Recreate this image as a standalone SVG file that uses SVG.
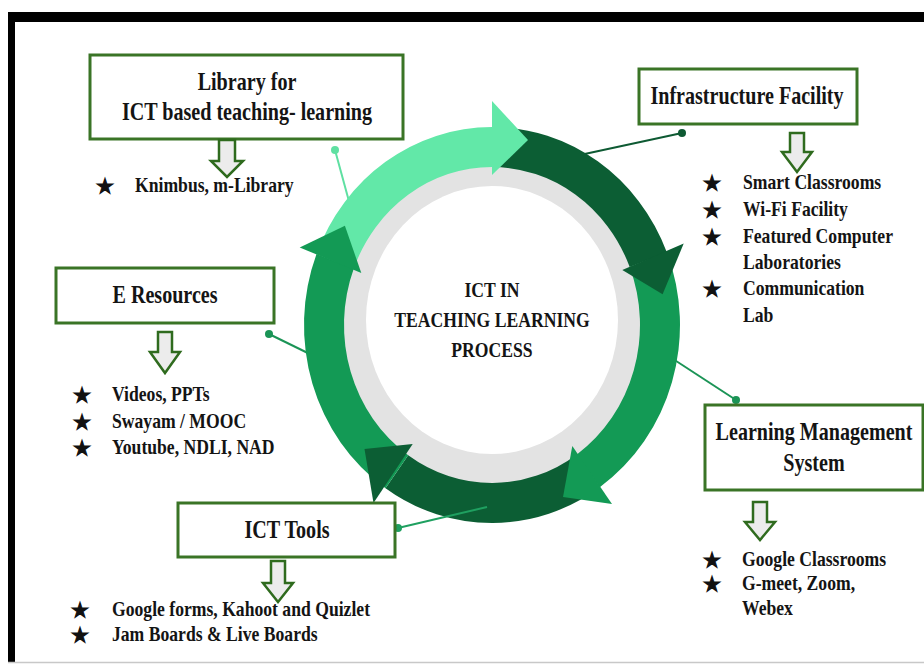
<svg xmlns="http://www.w3.org/2000/svg" width="924" height="664" viewBox="0 0 924 664">
<style>
.t{font-family:"Liberation Serif","Times New Roman",serif;font-weight:bold;fill:#141414;transform-box:fill-box;}
.c{text-anchor:middle;transform-origin:center;transform:scaleX(0.82);}
.l{text-anchor:start;transform-origin:left center;transform:scaleX(0.82);}
.h{font-size:24.5px;}
.b{font-size:21.5px;}
.s{font-family:"DejaVu Sans",sans-serif;font-size:20px;text-anchor:middle;fill:#111;stroke:#111;stroke-width:1.2;stroke-linejoin:miter;}
.box{fill:#fff;stroke:#3A7426;stroke-width:3;}
.dn{fill:#ECECEC;stroke:#2F6B1E;stroke-width:2.5;stroke-linejoin:miter;}
.cn{fill:none;stroke-width:2;}
</style>
<rect width="924" height="664" fill="#fff"/>
<!-- frame -->
<rect x="8" y="12" width="916" height="10" fill="#000"/>
<rect x="8" y="12" width="7" height="650" fill="#000"/>
<line x1="8" y1="662.5" x2="924" y2="662.5" stroke="#C8C8C8" stroke-width="1.5"/>

<!-- connectors under ring -->
<g id="connectors">
  <line class="cn" x1="335" y1="150" x2="350" y2="205" stroke="#5FE0A2"/>
  <circle cx="335" cy="150" r="4" fill="#5FE0A2"/>
  <line class="cn" x1="682" y1="133" x2="580" y2="155" stroke="#0E5A33"/>
  <circle cx="682" cy="133" r="4" fill="#0E5A33"/>
  <line class="cn" x1="269" y1="334" x2="320" y2="359" stroke="#1B9456"/>
  <circle cx="269" cy="334" r="4" fill="#1B9456"/>
  <line class="cn" x1="736" y1="400" x2="670" y2="357" stroke="#1B9456"/>
  <circle cx="736" cy="400" r="4" fill="#1B9456"/>
</g>

<!-- central cycle -->
<g id="cycle">
  <ellipse cx="492" cy="325" rx="150" ry="160" fill="#E3E3E3"/>
  <ellipse cx="492" cy="320" rx="126" ry="134" fill="#fff"/>
  <path d="M316.5,254 A188,198 0 0 1 492,127 L492,167 A148,158 0 0 0 353.8,268.4 Z" fill="#62E8A8"/>
  <path d="M492,127 A188,198 0 0 1 666.9,252.4 L629.7,267.1 A148,158 0 0 0 492,167 Z" fill="#0C5E34"/>
  <path d="M666.9,252.4 A188,198 0 0 1 599.8,487.2 L576.9,454.4 A148,158 0 0 0 629.7,267.1 Z" fill="#139A55"/>
  <path d="M599.8,487.2 A188,198 0 0 1 385.5,488.2 L408.2,455.2 A148,158 0 0 0 576.9,454.4 Z" fill="#0C5E34"/>
  <path d="M385.5,488.2 A188,198 0 0 1 316.5,254 L353.8,268.4 A148,158 0 0 0 408.2,455.2 Z" fill="#139A55"/>
  <polygon points="492,175 492,101 528,140" fill="#62E8A8"/>
  <polygon points="622.3,270 683.7,243.6 662.6,294.3" fill="#0C5E34"/>
  <polygon points="572.3,446 612,504 563,497" fill="#139A55"/>
  <polygon points="412.7,444 373.5,503 364.5,449" fill="#0C5E34"/>
  <polygon points="361.3,273 299.7,247.4 344.9,225.7" fill="#139A55"/>
  <text class="t c b" x="492" y="297">ICT IN</text>
  <text class="t c b" x="492" y="327">TEACHING LEARNING</text>
  <text class="t c b" x="492" y="357">PROCESS</text>
</g>

<!-- connector over ring -->
<g id="connector-tools">
  <line class="cn" x1="398" y1="528" x2="487" y2="507" stroke="#1FA060"/>
  <circle cx="398" cy="528" r="4" fill="#1FA060"/>
</g>

<g id="library">
  <rect class="box" x="90" y="55" width="313" height="84"/>
  <text class="t c h" x="247" y="90">Library for</text>
  <text class="t c h" x="247" y="120">ICT based teaching- learning</text>
  <path class="dn" d="M219,140 H235 V161 H243 L227,177 L211,161 H219 Z"/>
  <text class="s" x="105" y="193">★</text>
  <text class="t l b" x="135" y="192">Knimbus, m-Library</text>
</g>

<g id="infrastructure">
  <rect class="box" x="639" y="69" width="218" height="55"/>
  <text class="t c h" x="747" y="104">Infrastructure Facility</text>
  <path class="dn" d="M790,133 H804 V152 H812 L797,172 L782,152 H790 Z"/>
  <text class="s" x="712" y="190">★</text>
  <text class="s" x="712" y="217">★</text>
  <text class="s" x="712" y="244">★</text>
  <text class="s" x="712" y="296">★</text>
  <text class="t l b" x="743" y="189">Smart Classrooms</text>
  <text class="t l b" x="743" y="216">Wi-Fi Facility</text>
  <text class="t l b" x="743" y="243">Featured Computer</text>
  <text class="t l b" x="743" y="269">Laboratories</text>
  <text class="t l b" x="743" y="295">Communication</text>
  <text class="t l b" x="743" y="322">Lab</text>
</g>

<g id="eresources">
  <rect class="box" x="56" y="268" width="218" height="55"/>
  <text class="t c h" x="165" y="303">E Resources</text>
  <path class="dn" d="M158,332 H172 V352 H180 L165,373 L150,352 H158 Z"/>
  <text class="s" x="82" y="402">★</text>
  <text class="s" x="82" y="429">★</text>
  <text class="s" x="82" y="455">★</text>
  <text class="t l b" x="112" y="401">Videos, PPTs</text>
  <text class="t l b" x="112" y="428">Swayam / MOOC</text>
  <text class="t l b" x="112" y="454">Youtube, NDLI, NAD</text>
</g>

<g id="lms">
  <rect class="box" x="705" y="405" width="218" height="85"/>
  <text class="t c h" x="814" y="440">Learning Management</text>
  <text class="t c h" x="814" y="471">System</text>
  <path class="dn" d="M753,502 H767 V522 H775 L760,540 L745,522 H753 Z"/>
  <text class="s" x="712" y="567">★</text>
  <text class="s" x="712" y="591">★</text>
  <text class="t l b" x="742" y="566">Google Classrooms</text>
  <text class="t l b" x="742" y="590">G-meet, Zoom,</text>
  <text class="t l b" x="742" y="615">Webex</text>
</g>

<g id="icttools">
  <rect class="box" x="178" y="503" width="217" height="54"/>
  <text class="t c h" x="287" y="538">ICT Tools</text>
  <path class="dn" d="M271,561 H285 V583 H293 L278,602 L263,583 H271 Z"/>
  <text class="s" x="80" y="617">★</text>
  <text class="s" x="80" y="642">★</text>
  <text class="t l b" x="112" y="616">Google forms, Kahoot and Quizlet</text>
  <text class="t l b" x="112" y="641">Jam Boards &amp; Live Boards</text>
</g>
</svg>
